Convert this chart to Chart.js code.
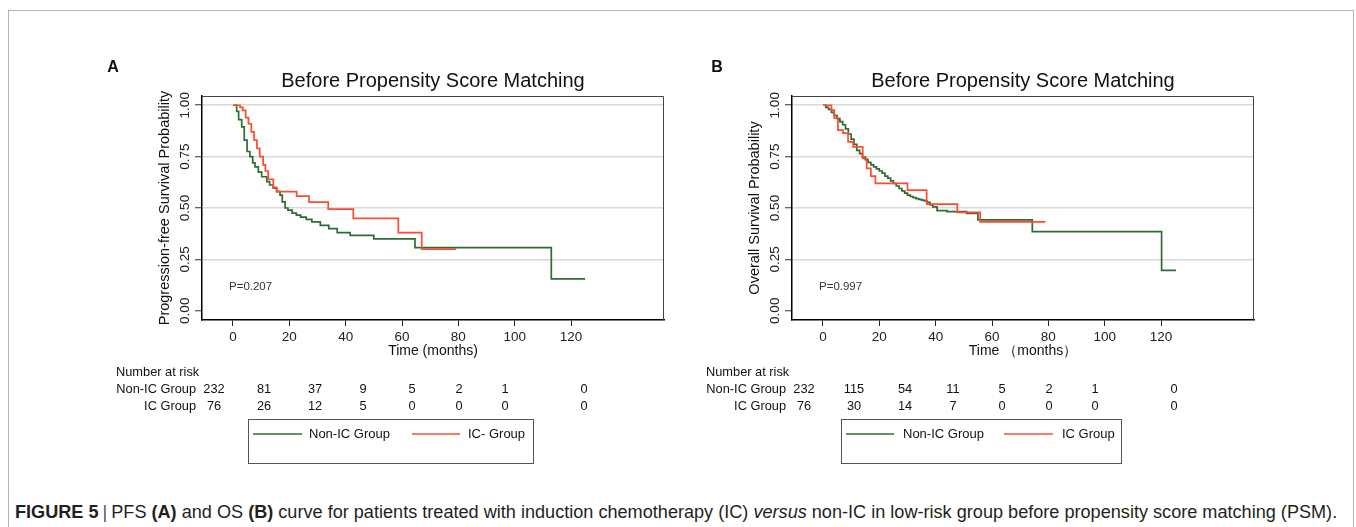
<!DOCTYPE html>
<html>
<head>
<meta charset="utf-8">
<title>Figure 5</title>
<script src="https://cdn.jsdelivr.net/npm/chart.js@4.4.1/dist/chart.umd.min.js"></script>
<style>
  html, body { margin: 0; padding: 0; background: #fff; width: 1356px; height: 527px; overflow: hidden; }
  #frame { position: absolute; left: 8px; top: 10px; width: 1344px; height: 600px; border: 1px solid #b3b3b3; }
  .panel { position: absolute; top: 0; width: 680px; height: 470px; }
  #panelA { left: 0; }
  #panelB { left: 590px; }
  #caption { position: absolute; left: 15px; top: 502px; white-space: nowrap; color: #231f20;
             font-family: "Liberation Sans", Arial, sans-serif; font-size: 16px; line-height: 20px; }
  #caption .sep { color: #555; margin: 0 4px; }
</style>
</head>
<body>
<div id="frame"></div>
<div class="panel" id="panelA"><canvas id="chartA" width="680" height="470"></canvas></div>
<div class="panel" id="panelB"><canvas id="chartB" width="680" height="470"></canvas></div>
<div id="caption"><b>FIGURE 5</b><span class="sep">|</span>PFS <b>(A)</b> and OS <b>(B)</b> curve for patients treated with induction chemotherapy (IC) <i>versus</i> non-IC in low-risk group before propensity score matching (PSM).</div>

<script>
// axis ticks
const xTicks = [0, 20, 40, 60, 80, 100, 120];
const yTicks = [0, 0.25, 0.5, 0.75, 1];
const yTickLabels = ['0.00', '0.25', '0.50', '0.75', '1.00'];

// Panel A - progression-free survival (Kaplan-Meier steps)
const pfsNonIcTime = [0, 1.3, 2, 3.1, 4, 5, 6, 7, 7.8, 9, 10.2, 12, 13, 14.3, 15.5, 16.7, 17.5, 18.5, 19.5, 21, 22.5, 24, 26, 28, 31, 34, 37, 41.6, 50, 64.6, 113, 125];
const pfsNonIcSurv = [1, 0.97, 0.93, 0.895, 0.83, 0.775, 0.75, 0.72, 0.70, 0.675, 0.652, 0.628, 0.612, 0.597, 0.58, 0.563, 0.53, 0.50, 0.49, 0.475, 0.465, 0.456, 0.445, 0.432, 0.415, 0.40, 0.38, 0.367, 0.35, 0.307, 0.155, 0.155];
const pfsIcTime = [0, 2.5, 3.5, 4.5, 5.5, 6.5, 7.5, 8.5, 9.5, 10.7, 11.5, 12.5, 14.3, 15.5, 22.6, 27, 33.8, 42.7, 58.7, 67, 79.2];
const pfsIcSurv = [1, 0.99, 0.975, 0.94, 0.91, 0.87, 0.83, 0.79, 0.75, 0.71, 0.68, 0.64, 0.60, 0.58, 0.558, 0.529, 0.495, 0.45, 0.38, 0.30, 0.30];

// Panel B - overall survival
const osNonIcTime = [0, 1, 2, 3, 4, 5, 6, 7, 8, 9, 10, 11, 12, 13, 14, 15, 16, 17, 18, 19, 20, 21, 22, 23, 24, 25, 26, 27, 28, 29, 30, 31, 32, 33, 34, 35, 36, 37, 38, 39, 40.5, 44, 51, 55, 74.3, 120.2, 125.3];
const osNonIcSurv = [1, 0.99, 0.98, 0.965, 0.95, 0.935, 0.92, 0.905, 0.885, 0.86, 0.835, 0.81, 0.78, 0.765, 0.748, 0.735, 0.722, 0.71, 0.70, 0.69, 0.68, 0.67, 0.655, 0.645, 0.632, 0.62, 0.607, 0.595, 0.583, 0.572, 0.563, 0.556, 0.55, 0.546, 0.542, 0.538, 0.534, 0.528, 0.515, 0.505, 0.487, 0.482, 0.474, 0.442, 0.385, 0.196, 0.196];
const osIcTime = [0, 3, 4, 5.3, 7.1, 8.9, 10.7, 14.1, 15.5, 17, 18.6, 30, 36.8, 47.7, 55.8, 79];
const osIcSurv = [1, 0.976, 0.937, 0.879, 0.864, 0.822, 0.797, 0.741, 0.693, 0.655, 0.62, 0.587, 0.519, 0.479, 0.432, 0.432];

// Number at risk
const riskRows = ['Non-IC Group', 'IC Group'];
const riskA_nonIc = [232, 81, 37, 9, 5, 2, 1, 0];
const riskA_ic = [76, 26, 12, 5, 0, 0, 0, 0];
const riskB_nonIc = [232, 115, 54, 11, 5, 2, 1, 0];
const riskB_ic = [76, 30, 14, 7, 0, 0, 0, 0];

const GREEN = '#2f6b34';
const RED = '#ff4a32';
const FONT = '"Liberation Sans", Arial, sans-serif';

// column centres of the risk table, measured from the plot's left edge
const riskCols = [12, 62, 113, 161, 210, 257, 303, 382];

function toPoints(times, surv) {
    return times.map((t, i) => ({ x: t, y: surv[i] }));
}

// draws title, panel letter, box, p-value, risk table and legend
const panelExtras = {
    id: 'panelExtras',
    afterDraw(chart, args, o) {
        const { ctx, chartArea: a } = chart;
        ctx.save();

        // top and right frame of the plot
        ctx.strokeStyle = '#444';
        ctx.lineWidth = 1;
        ctx.beginPath();
        ctx.moveTo(a.left, a.top + 0.5);
        ctx.lineTo(a.right - 0.5, a.top + 0.5);
        ctx.lineTo(a.right - 0.5, a.bottom);
        ctx.stroke();

        ctx.fillStyle = '#111';
        ctx.textBaseline = 'middle';

        // title
        ctx.font = `20px ${FONT}`;
        ctx.textAlign = 'center';
        ctx.fillText('Before Propensity Score Matching', (a.left + a.right) / 2, 81);

        // panel letter
        ctx.font = `bold 16px ${FONT}`;
        ctx.fillText(o.letter, o.letterX, 68);

        // p-value
        ctx.font = `11.5px ${FONT}`;
        ctx.textAlign = 'left';
        ctx.fillStyle = '#333';
        ctx.fillText(o.pText, a.left + 27, 287);

        // risk table
        ctx.fillStyle = '#111';
        ctx.font = `12.8px ${FONT}`;
        ctx.fillText('Number at risk', 116, 372);
        const rowY = [389, 406];
        ctx.textAlign = 'right';
        riskRows.forEach((r, i) => ctx.fillText(r, 196, rowY[i]));
        ctx.textAlign = 'center';
        [o.riskNonIc, o.riskIc].forEach((row, i) => {
            row.forEach((n, j) => ctx.fillText(String(n), a.left + riskCols[j], rowY[i]));
        });

        // legend box
        const lg = o.legend;
        ctx.strokeStyle = '#555';
        ctx.strokeRect(a.left + lg.left + 0.5, 419.5, lg.right - lg.left, 44);
        ctx.lineWidth = 1.5;
        ctx.strokeStyle = GREEN;
        ctx.beginPath();
        ctx.moveTo(a.left + lg.g1, 434);
        ctx.lineTo(a.left + lg.g2, 434);
        ctx.stroke();
        ctx.strokeStyle = RED;
        ctx.beginPath();
        ctx.moveTo(a.left + lg.r1, 434);
        ctx.lineTo(a.left + lg.r2, 434);
        ctx.stroke();
        ctx.textAlign = 'left';
        ctx.font = `13px ${FONT}`;
        ctx.fillText(lg.label1, a.left + lg.t1, 434);
        ctx.fillText(lg.label2, a.left + lg.t2, 434);

        ctx.restore();
    }
};

function makeChart(canvasId, nonIc, ic, yTitle, xTitle, extras) {
    const ctx = document.getElementById(canvasId).getContext('2d');
    return new Chart(ctx, {
        type: 'scatter',
        data: {
            datasets: [
                {
                    label: 'IC Group',
                    data: ic,
                    borderColor: RED,
                    borderWidth: 1.7,
                    showLine: true,
                    stepped: 'before',
                    pointRadius: 0
                },
                {
                    label: 'Non-IC Group',
                    data: nonIc,
                    borderColor: GREEN,
                    borderWidth: 1.7,
                    showLine: true,
                    stepped: 'before',
                    pointRadius: 0
                }
            ]
        },
        options: {
            responsive: false,
            animation: false,
            layout: { padding: { left: 152, top: 96, right: 16, bottom: 110 } },
            plugins: {
                legend: { display: false },
                tooltip: { enabled: false },
                panelExtras: extras
            },
            scales: {
                x: {
                    type: 'linear',
                    min: -11,
                    max: 153,
                    afterBuildTicks: s => { s.ticks = xTicks.map(v => ({ value: v })); },
                    afterFit: s => { s.height = 40; },
                    grid: { drawOnChartArea: false, tickLength: 6, tickColor: '#222', tickWidth: 1 },
                    border: { color: '#000', width: 1.5 },
                    ticks: { color: '#222', padding: 3, maxRotation: 0, autoSkip: false, font: { family: FONT, size: 13.5 } },
                    title: { display: true, text: xTitle, color: '#111', padding: 0, font: { family: FONT, size: 14 } }
                },
                y: {
                    min: -0.045,
                    max: 1.045,
                    afterBuildTicks: s => { s.ticks = yTicks.map(v => ({ value: v })); },
                    afterFit: s => { s.width = 50; },
                    grid: {
                        color: c => (c.tick && c.tick.value === 0 ? 'rgba(0,0,0,0)' : '#dadada'),
                        lineWidth: 1.5,
                        tickLength: 7,
                        tickColor: '#333',
                        tickWidth: 1
                    },
                    border: { color: '#000', width: 1.5 },
                    ticks: {
                        color: '#222',
                        minRotation: 90,
                        maxRotation: 90,
                        crossAlign: 'center',
                        padding: -3,
                        autoSkip: false,
                        font: { family: FONT, size: 13.5 },
                        callback: v => yTickLabels[yTicks.indexOf(v)]
                    },
                    title: { display: true, text: yTitle, color: '#111', padding: { top: 4, bottom: 0 }, font: { family: FONT, size: 14.5 } }
                }
            }
        },
        plugins: [panelExtras]
    });
}

makeChart('chartA', toPoints(pfsNonIcTime, pfsNonIcSurv), toPoints(pfsIcTime, pfsIcSurv),
    'Progression-free Survival Probability', 'Time (months)', {
        letter: 'A', letterX: 113, pText: 'P=0.207',
        riskNonIc: riskA_nonIc, riskIc: riskA_ic,
        legend: { left: 46, right: 331, g1: 51, g2: 100, r1: 210, r2: 258, t1: 107, t2: 266, label1: 'Non-IC Group', label2: 'IC- Group' }
    });

makeChart('chartB', toPoints(osNonIcTime, osNonIcSurv), toPoints(osIcTime, osIcSurv),
    'Overall Survival Probability', 'Time （months）', {
        letter: 'B', letterX: 127, pText: 'P=0.997',
        riskNonIc: riskB_nonIc, riskIc: riskB_ic,
        legend: { left: 49, right: 329, g1: 54, g2: 102, r1: 212, r2: 261, t1: 111, t2: 270, label1: 'Non-IC Group', label2: 'IC Group' }
    });

// fit the caption to the width of the reference
const cap = document.getElementById('caption');
const capW = cap.getBoundingClientRect().width;
cap.style.fontSize = (16 * 1323 / capW).toFixed(2) + 'px';
</script>
</body>
</html>
